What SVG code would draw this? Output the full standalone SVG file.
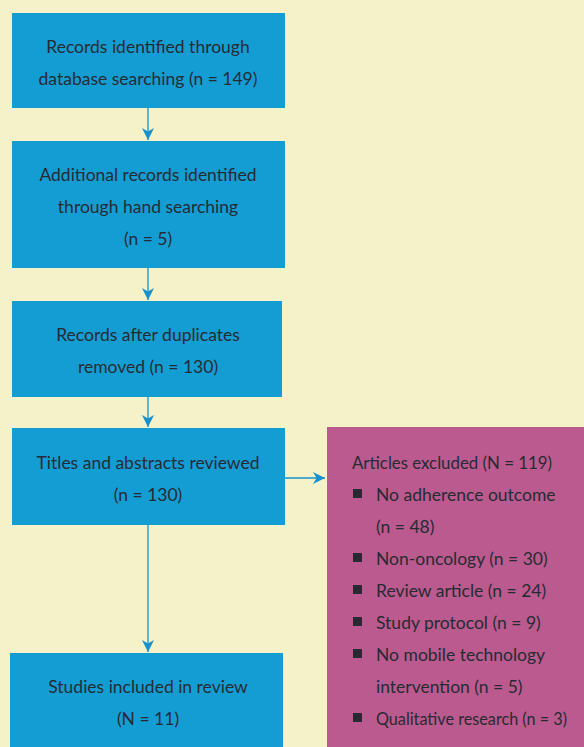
<svg xmlns="http://www.w3.org/2000/svg" width="584" height="747" viewBox="0 0 584 747">
<defs>
<style>
.box{fill:#139DD3}
.ex{fill:#BB5A8E}
text{font-family:Lato,"Open Sans","Liberation Sans",sans-serif;font-size:17.5px;fill:#262b33}
.c{text-anchor:middle}
.ln{stroke:#1690CE;stroke-width:1.3;fill:none}
.b{fill:#262b33}
</style>
<marker id="ah" markerWidth="12" markerHeight="12" refX="10" refY="5" orient="auto" markerUnits="userSpaceOnUse" viewBox="0 0 10 10">
<path d="M0,0 L10,5 L0,10 L3,5 Z" fill="#1690CE"/>
</marker>
</defs>
<rect width="584" height="747" fill="#F5F1C8"/>
<g id="connectors">
<line class="ln" x1="148" y1="108" x2="148" y2="140" marker-end="url(#ah)"/>
<line class="ln" x1="148" y1="268" x2="148" y2="300" marker-end="url(#ah)"/>
<line class="ln" x1="148" y1="397" x2="148" y2="427" marker-end="url(#ah)"/>
<line class="ln" x1="148" y1="525" x2="148" y2="652" marker-end="url(#ah)"/>
<line class="ln" x1="285" y1="478" x2="325" y2="478" marker-end="url(#ah)"/>
</g>
<g id="n1">
<rect class="box" x="12" y="13" width="273" height="95"/>
<text class="c" x="148" y="53">Records identified through</text>
<text class="c" x="148" y="85">database searching (n = 149)</text>
</g>
<g id="n2">
<rect class="box" x="12" y="141" width="273" height="127"/>
<text class="c" x="148" y="181">Additional records identified</text>
<text class="c" x="148" y="213">through hand searching</text>
<text class="c" x="148" y="245">(n = 5)</text>
</g>
<g id="n3">
<rect class="box" x="12" y="301" width="270" height="96"/>
<text class="c" x="148" y="341">Records after duplicates</text>
<text class="c" x="148" y="373">removed (n = 130)</text>
</g>
<g id="n4">
<rect class="box" x="12" y="428" width="273" height="97"/>
<text class="c" x="148" y="469">Titles and abstracts reviewed</text>
<text class="c" x="148" y="501">(n = 130)</text>
</g>
<g id="n5">
<rect class="box" x="10" y="653" width="273" height="94"/>
<text class="c" x="148" y="693">Studies included in review</text>
<text class="c" x="148" y="725">(N = 11)</text>
</g>
<g id="n6">
<rect class="ex" x="327" y="427" width="257" height="320"/>
<text x="352" y="469" textLength="200" lengthAdjust="spacingAndGlyphs">Articles excluded (N = 119)</text>
<rect class="b" x="353" y="489" width="9" height="9"/>
<text x="376" y="501">No adherence outcome</text>
<text x="376" y="533">(n = 48)</text>
<rect class="b" x="353" y="553" width="9" height="9"/>
<text x="376" y="565">Non-oncology (n = 30)</text>
<rect class="b" x="353" y="585" width="9" height="9"/>
<text x="376" y="597">Review article (n = 24)</text>
<rect class="b" x="353" y="617" width="9" height="9"/>
<text x="376" y="629">Study protocol (n = 9)</text>
<rect class="b" x="353" y="649" width="9" height="9"/>
<text x="376" y="661">No mobile technology</text>
<text x="376" y="693">intervention (n = 5)</text>
<rect class="b" x="353" y="713" width="9" height="9"/>
<text x="376" y="725" textLength="191" lengthAdjust="spacingAndGlyphs">Qualitative research (n = 3)</text>
</g>
</svg>
